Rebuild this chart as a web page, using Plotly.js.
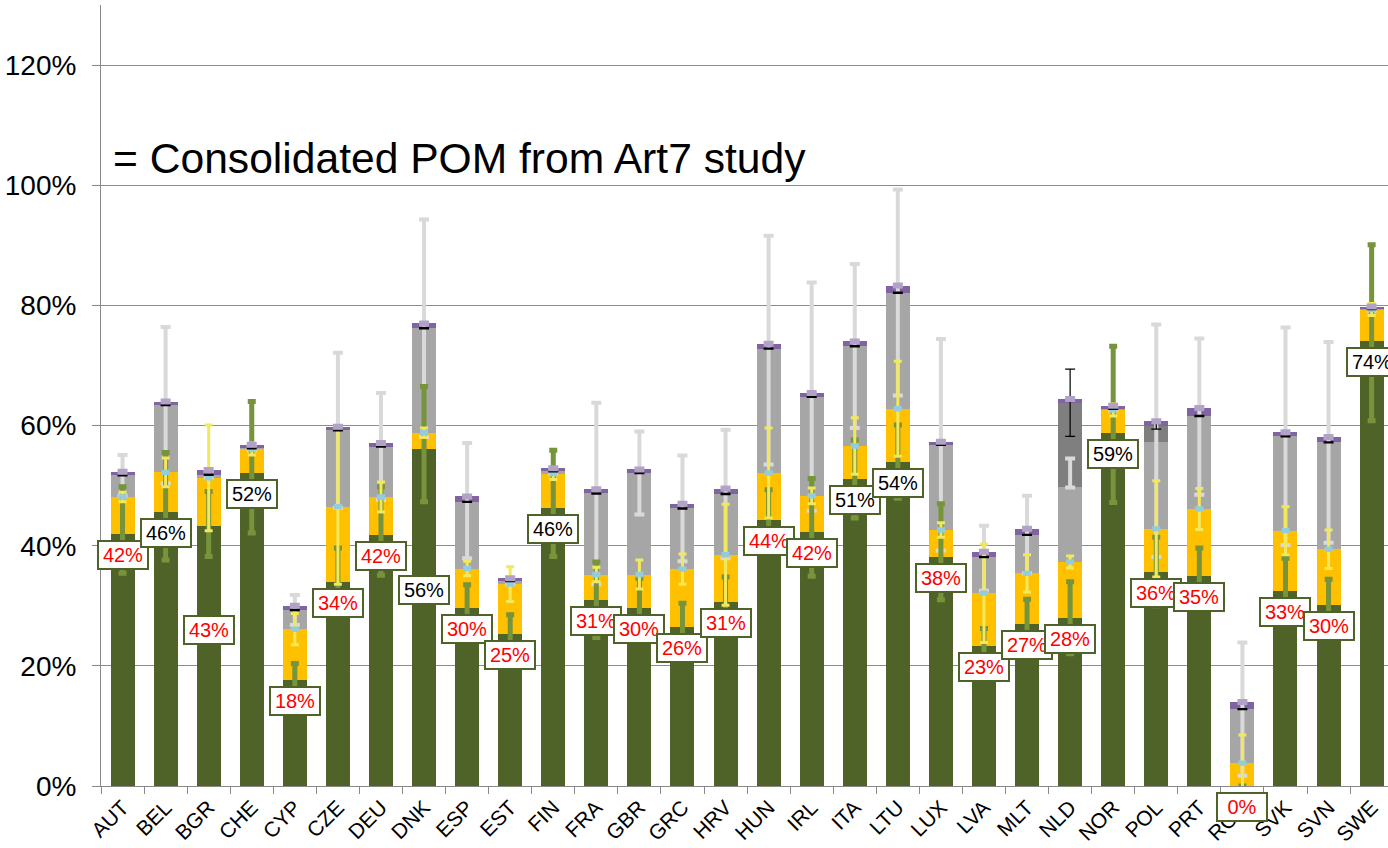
<!DOCTYPE html>
<html>
<head>
<meta charset="utf-8">
<script src="https://cdn.plot.ly/plotly-3.0.1.min.js"></script>
<style>html,body{margin:0;padding:0;background:#fff;}#chart{width:1388px;height:848px;}</style>
</head>
<body>
<div id="chart"></div>
<script>
// ---------- data (percent) ----------
const countries = ['AUT','BEL','BGR','CHE','CYP','CZE','DEU','DNK','ESP','EST','FIN','FRA','GBR','GRC','HRV','HUN','IRL','ITA','LTU','LUX','LVA','MLT','NLD','NOR','POL','PRT','ROU','SVK','SVN','SWE'];
const green    = [42.0,45.6,43.2,52.1,17.6,34.0,41.7,56.1,29.6,25.3,46.3,31.0,29.6,26.4,30.7,44.3,42.2,51.1,54.0,38.1,23.3,26.9,28.0,58.7,35.7,35.0,0.0,32.5,30.1,74.0];
const orange   = [6.1,6.6,8.1,4.0,8.5,12.5,6.4,2.7,6.6,8.3,5.7,4.2,5.6,9.7,7.8,7.8,6.1,5.5,8.8,4.5,8.8,8.5,9.3,3.9,7.1,11.1,3.8,10.0,9.3,5.3];
const gray     = [3.6,11.2,0.5,0.1,3.2,12.7,8.4,17.4,11.1,0.5,0.4,13.5,16.9,10.1,10.1,20.7,16.5,16.6,19.3,14.2,6.0,6.4,12.4,0.2,14.5,15.5,9.0,15.7,17.8,0.1];
const darkGray = [0,0,0,0,0,0,0,0,0,0,0,0,0,0,0,0,0,0,0,0,0,0,14.1,0,2.7,0,0,0,0,0];
const purple   = [0.6,0.6,0.8,0.6,0.7,0.6,0.6,0.8,0.9,0.5,0.5,0.7,0.6,0.8,0.9,0.8,0.6,0.8,1.2,0.5,0.9,1.0,0.6,0.5,0.7,1.3,1.2,0.7,0.9,0.4];

// error bars
const errGreenUp   = [7.8,9.9,5.8,11.9,2.8,5.6,8.1,10.4,3.9,3.2,9.6,6.3,5.0,4.0,4.1,5.0,9.0,6.5,6.1,8.9,2.9,4.2,6.0,14.5,5.7,4.6,0,5.4,4.3,16.1];
const errGreenDown = [6.6,8.0,5.0,10.0,2.8,5.6,6.6,8.8,3.9,3.2,8.1,6.3,5.0,4.0,4.1,5.0,7.3,6.5,6.1,7.1,2.9,4.2,6.0,11.5,5.7,4.6,0,5.4,4.3,13.2];
const errYellow    = [0.8,2.4,8.8,1.0,2.6,12.9,2.5,0.8,1.2,2.9,1.0,1.2,2.4,2.5,8.4,7.5,1.3,4.7,7.9,1.2,8.2,3.1,1.0,1.0,8.0,3.4,4.7,4.0,3.2,1.0];
const errGrayUp    = [3.4,13.0,0.5,0.3,2.5,12.9,8.9,18.1,9.8,0.5,0.5,15.1,6.9,8.8,10.7,18.8,19.0,13.7,17.2,17.6,5.2,6.5,4.8,0.3,19.5,12.9,11.1,18.1,16.7,0.3];
const errGrayDown  = [3.4,13.0,0.5,0.3,2.5,12.9,8.9,18.1,9.4,0.5,0.5,15.1,6.9,8.8,10.7,19.3,19.0,13.6,17.1,17.6,5.6,6.4,0.0,0.3,19.2,13.1,11.1,18.1,16.7,0.3];
const errBlack     = [0.1,0.1,0.1,0.1,0.1,0.1,0.1,0.1,0.1,0.1,0.1,0.1,0.1,0.1,0.1,0.1,0.1,0.1,0.1,0.1,0.1,0.1,5.6,0.1,0.6,0.1,0.1,0.1,0.1,0.1];

const noteText = '= Consolidated POM from Art7 study';
const targetPct = 45;

// ---------- layout-only settings ----------
const FONT = 'Liberation Sans, Arial, sans-serif';
const labelExtraShift = {BGR: -83, DNK: -120};

// cumulative segment tops (error bars sit on each segment's top)
const topG = green.slice();
const topO = topG.map((v,i)=>v+orange[i]);
const topS = topO.map((v,i)=>v+gray[i]);
const topD = topS.map((v,i)=>v+darkGray[i]);
const topP = topD.map((v,i)=>v+purple[i]);

function bar(y, color){
  return {type:'bar', x:countries, y:y, width:0.557, marker:{color:color, line:{width:0}}, hoverinfo:'skip', showlegend:false};
}
function errTrace(y, err, color, thick, w){
  return {type:'scatter', mode:'markers', x:countries, y:y, marker:{size:1, color:'rgba(0,0,0,0)'},
    error_y:Object.assign({visible:true, color:color, thickness:thick, width:w}, err),
    hoverinfo:'skip', showlegend:false, cliponaxis:false};
}

const data = [
  bar(green,'#4F6228'),
  bar(orange,'#FFC000'),
  bar(gray,'#A6A6A6'),
  bar(darkGray,'#7F7F7F'),
  bar(purple,'#8064A2'),
  errTrace(topS, {type:'data', array:errGrayUp, arrayminus:errGrayDown, symmetric:false}, '#D9D9D9', 4, 5),
  errTrace(topG, {type:'data', array:errGreenUp, arrayminus:errGreenDown, symmetric:false}, '#77933C', 5, 4),
  errTrace(topO, {type:'data', array:errYellow, symmetric:true}, '#F2E85C', 3, 4),
  errTrace(topO, {type:'constant', value:0.2, symmetric:true}, '#93CDDD', 3, 4),
  errTrace(topD, {type:'data', array:errBlack, symmetric:true}, '#000000', 1.2, 5),
  errTrace(topP, {type:'constant', value:0.25, symmetric:true}, '#B3A2C7', 3, 5)
];

const annotations = countries.map((c,i)=>({
  x:c, y:green[i], xref:'x', yref:'y',
  text:Math.round(green[i])+'%', showarrow:false,
  xanchor:'center', yanchor:'top', yshift:-6 + (labelExtraShift[c]||0),
  font:{family:FONT, size:20, color: Math.round(green[i])>=targetPct ? '#000000' : '#FF0000'},
  bgcolor:'#FFFFFF', bordercolor:'#4F6228', borderwidth:2, borderpad:1, width:46, height:24
}));
annotations.push({
  xref:'paper', yref:'paper', x:0.008, y:0.804, xanchor:'left', yanchor:'middle',
  text:noteText, showarrow:false, font:{family:FONT, size:42.6, color:'#000'}
});

const layout = {
  width:1388, height:848,
  margin:{l:101, r:0, t:5, b:62},
  paper_bgcolor:'#FFFFFF', plot_bgcolor:'#FFFFFF',
  barmode:'stack',
  font:{family:FONT, color:'#000'},
  showlegend:false,
  xaxis:{type:'category', range:[-0.5, 29.38], showgrid:false, showline:true, linecolor:'#888888', linewidth:1,
    ticks:'outside', tickson:'boundaries', ticklen:7, tickcolor:'#888888', tickangle:-45,
    tickfont:{family:FONT, size:21, color:'#000'}, zeroline:false, fixedrange:true},
  yaxis:{range:[0,130], dtick:20, tick0:0, ticksuffix:'%', showgrid:true, gridcolor:'#8C8C8C', gridwidth:1,
    showline:true, linecolor:'#888888', linewidth:1, ticks:'outside', ticklen:8, tickcolor:'#888888',
    ticklabelstandoff:10, tickfont:{family:FONT, size:28, color:'#000'}, zeroline:false, fixedrange:true},
  annotations:annotations
};

Plotly.newPlot('chart', data, layout, {displayModeBar:false, staticPlot:true});
</script>
</body>
</html>
